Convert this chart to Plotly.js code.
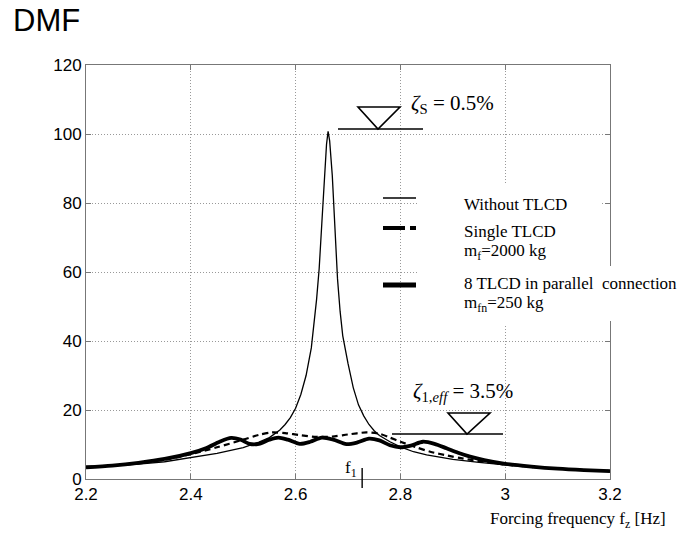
<!DOCTYPE html>
<html>
<head>
<meta charset="utf-8">
<script src="https://cdn.plot.ly/plotly-3.0.1.min.js"></script>
<style>html,body{margin:0;padding:0;background:#fff;}#chart{width:678px;height:533px;}</style>
</head>
<body>
<div id="chart"></div>
<script>
// ---- data ----
const freqThin = [2.2,2.25,2.3,2.35,2.4,2.45,2.5,2.53,2.55,2.57,2.58,2.59,2.6,2.61,2.62,2.63,2.64,2.645,2.65,2.655,2.659,2.662,2.665,2.67,2.675,2.68,2.685,2.69,2.7,2.71,2.72,2.73,2.74,2.75,2.76,2.78,2.8,2.825,2.85,2.9,2.95,3.0,3.05,3.1,3.15,3.2];
const dmfThin  = [3.3,3.7,4.3,5.0,6.1,7.4,9.1,10.7,12.0,14.2,15.8,17.8,20.5,24.5,30,38,52,61,74,88,97,100.8,98,88,71,58,48.5,41.5,33.5,26.5,21.5,18.3,15.8,14.0,12.6,10.8,9.3,7.9,7.0,5.7,4.8,4.0,3.4,2.9,2.6,2.4];

const freqSingle = [2.2,2.25,2.3,2.35,2.4,2.45,2.5,2.53,2.555,2.58,2.61,2.64,2.67,2.7,2.735,2.76,2.78,2.8,2.83,2.857,2.89,2.92,2.96,3.0,3.05,3.1,3.15,3.2];
const dmfSingle  = [3.4,3.9,4.6,5.6,7.2,9.2,11.4,12.8,13.5,13.3,12.7,12.2,12.3,12.9,13.5,13.1,12.0,10.8,9.2,7.9,6.8,5.9,5.0,4.2,3.5,3.0,2.6,2.3];

const freqMulti = [2.2,2.25,2.3,2.35,2.4,2.43,2.455,2.477,2.495,2.512,2.53,2.55,2.567,2.585,2.608,2.628,2.65,2.672,2.697,2.718,2.74,2.76,2.78,2.8,2.82,2.843,2.865,2.888,2.91,2.933,2.96,3.0,3.05,3.1,3.15,3.2];
const dmfMulti  = [3.4,3.9,4.7,5.8,7.5,9.0,10.8,11.9,11.4,10.2,10.2,11.4,12.0,11.4,10.2,10.8,12.0,11.4,10.1,10.6,11.7,11.2,9.8,9.2,9.7,10.8,10.2,8.9,7.6,6.5,5.5,4.4,3.6,3.0,2.6,2.3];

const xTicks = [2.2,2.4,2.6,2.8,3.0,3.2];
const xTickLabels = ['2.2','2.4','2.6','2.8','3','3.2'];
const yTicks = [0,20,40,60,80,100,120];
const yTickLabels = ['0','20','40','60','80','100','120'];

const seriesNames = ['Without TLCD','Single TLCD','8 TLCD in parallel  connection'];
const f1 = 2.727;

// ---- layout helpers (pixel -> paper) ----
const L = 86, R = 610, T = 65, B = 479;
const px = x => (x - L) / (R - L);
const py = y => (B - y) / (B - T);
const serif = '"Liberation Serif", "Times New Roman", serif';
const sans = '"Liberation Sans", Arial, Helvetica, sans-serif';

const traces = [
  {x: freqThin, y: dmfThin, name: seriesNames[0], mode: 'lines', line: {color: '#000', width: 1.3}},
  {x: freqSingle, y: dmfSingle, name: seriesNames[1], mode: 'lines', line: {color: '#000', width: 2.2, dash: '6px,4px', shape: 'spline', smoothing: 0.8}},
  {x: freqMulti, y: dmfMulti, name: seriesNames[2], mode: 'lines', line: {color: '#000', width: 3.8, shape: 'spline', smoothing: 0.8}}
];

function seg(x0, y0, x1, y1, w) {
  return {type: 'line', xref: 'paper', yref: 'paper', x0: px(x0), y0: py(y0), x1: px(x1), y1: py(y1),
          line: {color: '#000', width: w}, layer: 'above'};
}
function tri(xl, xr, yt, xa, ya) {
  return {type: 'path', xref: 'paper', yref: 'paper', layer: 'above',
          path: `M ${px(xl)} ${py(yt)} L ${px(xr)} ${py(yt)} L ${px(xa)} ${py(ya)} Z`,
          line: {color: '#000', width: 1.6}, fillcolor: 'rgba(0,0,0,0)'};
}

const shapes = [
  // legend white background
  {type: 'rect', xref: 'paper', yref: 'paper', x0: px(417), x1: px(600), y0: py(183), y1: py(325), fillcolor: '#fff', line: {width: 0}, layer: 'above'},
  {type: 'rect', xref: 'paper', yref: 'paper', x0: px(417), x1: px(678), y0: py(266), y1: py(321), fillcolor: '#fff', line: {width: 0}, layer: 'above'},
  // legend samples
  seg(383, 198, 416, 198, 1.3),
  seg(383, 228, 405, 228, 4),
  seg(410, 228, 416, 228, 4),
  seg(383, 285, 416, 285, 5),
  // damping markers
  tri(358, 400, 107, 378, 129),
  seg(338, 129, 423, 129, 1.4),
  tri(448, 490, 413, 467, 434),
  seg(392, 434, 503, 434, 1.4),
  // f1 mark
  {type: 'line', xref: 'x', yref: 'paper', x0: f1, x1: f1, y0: py(468), y1: py(488), line: {color: '#000', width: 1.4}, layer: 'above'}
];

function ann(text, x, y, size, font, xanchor) {
  return {text: text, xref: 'paper', yref: 'paper', x: px(x), y: py(y), xanchor: xanchor || 'left', yanchor: 'middle',
          showarrow: false, font: {family: font || serif, size: size, color: '#000'}};
}

const annotations = [
  ann('DMF', 11, 21, 31, sans),
  ann('<i>ζ</i><sub>S</sub> = 0.5%', 409, 104, 21),
  ann('<i>ζ</i><sub>1,<i>eff</i></sub> = 3.5%', 411, 392, 21),
  ann('f<sub>1</sub>', 343, 469, 17),
  ann(seriesNames[0], 462, 205, 17),
  ann(seriesNames[1], 462, 231, 17),
  ann('m<sub>f</sub>=2000 kg', 462, 252, 17),
  ann(seriesNames[2], 462, 283, 17),
  ann('m<sub>fn</sub>=250 kg', 462, 304, 17),
  ann('Forcing frequency f<sub>z</sub> [Hz]', 488, 520, 17)
];

const layout = {
  width: 678, height: 533,
  margin: {l: L, r: 678 - R, t: T, b: 533 - B, pad: 0},
  paper_bgcolor: '#fff', plot_bgcolor: '#fff',
  showlegend: false,
  xaxis: {range: [2.2, 3.2], tickvals: xTicks, ticktext: xTickLabels, ticks: 'inside', ticklen: 5, tickcolor: '#777',
          showline: true, linecolor: '#777', linewidth: 1, mirror: 'ticks',
          showgrid: true, gridcolor: '#999', griddash: '1px,2px', gridwidth: 1, zeroline: false,
          tickfont: {family: sans, size: 17, color: '#000'}, fixedrange: true},
  yaxis: {range: [0, 120], tickvals: yTicks, ticktext: yTickLabels, ticks: 'inside', ticklen: 5, tickcolor: '#777',
          showline: true, linecolor: '#777', linewidth: 1, mirror: 'ticks',
          showgrid: true, gridcolor: '#999', griddash: '1px,2px', gridwidth: 1, zeroline: false,
          tickfont: {family: sans, size: 17, color: '#000'}, fixedrange: true},
  shapes: shapes,
  annotations: annotations
};

Plotly.newPlot('chart', traces, layout, {displayModeBar: false, staticPlot: true});
</script>
</body>
</html>
